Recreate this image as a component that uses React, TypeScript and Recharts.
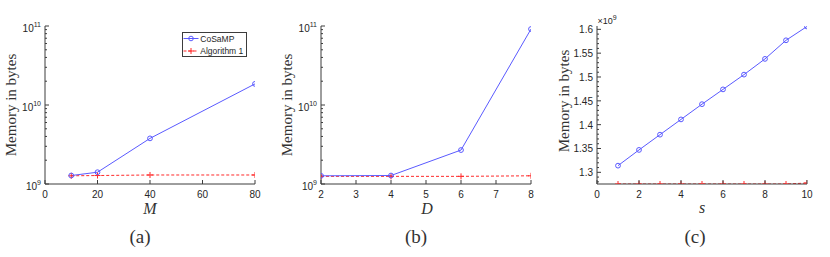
import React from 'react';
import { LineChart, Line, XAxis, YAxis, Legend } from 'recharts';

// ---- data ----
const mValues = [10, 20, 40, 80];
const cosampM = [1.28e9, 1.41e9, 3.78e9, 1.85e10];
const alg1M = [1.27e9, 1.28e9, 1.3e9, 1.3e9];

const dValues = [2, 4, 6, 8];
const cosampD = [1.27e9, 1.28e9, 2.69e9, 9.15e10];
const alg1D = [1.25e9, 1.25e9, 1.25e9, 1.27e9];

const sValues = [1, 2, 3, 4, 5, 6, 7, 8, 9, 10];
const cosampS = [1.314e9, 1.347e9, 1.379e9, 1.411e9, 1.443e9, 1.474e9, 1.505e9, 1.538e9, 1.577e9, 1.606e9];
const alg1S = [1.2755e9, 1.2755e9, 1.2755e9, 1.2755e9, 1.2755e9, 1.2755e9, 1.2755e9, 1.2755e9, 1.2755e9, 1.2775e9];

const mTicks = [0, 20, 40, 60, 80];
const dTicks = [2, 3, 4, 5, 6, 7, 8];
const sTicks = [0, 2, 4, 6, 8, 10];
const logMajor = [1e9, 1e10, 1e11];
const linMajorC = [1.3e9, 1.35e9, 1.4e9, 1.45e9, 1.5e9, 1.55e9, 1.6e9];
const linLabelsC = ['1.3', '1.35', '1.4', '1.45', '1.5', '1.55', '1.6'];

const logTicks: number[] = [];
[1e9, 1e10].forEach((d) => {
  for (let k = 1; k < 10; k++) logTicks.push(d * k);
});
logTicks.push(1e11);

const linTicksC: number[] = [];
for (let k = 128; k <= 160; k++) linTicksC.push(k * 1e7);

const mData = mValues.map((x, i) => ({ x, cosamp: cosampM[i], alg1: alg1M[i] }));
const dData = dValues.map((x, i) => ({ x, cosamp: cosampD[i], alg1: alg1D[i] }));
const sData = sValues.map((x, i) => ({ x, cosamp: cosampS[i], alg1: alg1S[i] }));

// ---- style ----
const AX = '#3c3c3c';
const TXT = '#262626';
const BLUE = '#5a5aff';
const RED = '#ff2a2a';
const SANS = '"Liberation Sans", Arial, sans-serif';
const SERIF = '"Liberation Serif", "DejaVu Serif", serif';

const isIn = (arr: number[], v: number) => arr.findIndex((m) => Math.abs(m - v) <= Math.abs(m) * 1e-6);

type Side = 'left' | 'right' | 'bottom' | 'top';
function makeTick(
  side: Side,
  majors: number[] | null,
  labeler: ((v: number, idx: number) => React.ReactNode) | null,
  dyLabel = 3.5
) {
  return (props: any) => {
    const { x, y, payload } = props;
    const v = payload.value;
    const idx = majors ? isIn(majors, v) : 0;
    const major = idx >= 0;
    const len = major ? 4 : 2;
    let line: React.ReactNode = null;
    if (side === 'left') line = <line x1={x} y1={y} x2={x + len} y2={y} stroke={AX} strokeWidth={1} />;
    if (side === 'right') line = <line x1={x} y1={y} x2={x - len} y2={y} stroke={AX} strokeWidth={1} />;
    if (side === 'bottom') line = <line x1={x} y1={y} x2={x} y2={y - len} stroke={AX} strokeWidth={1} />;
    if (side === 'top') line = <line x1={x} y1={y} x2={x} y2={y + len} stroke={AX} strokeWidth={1} />;
    let label: React.ReactNode = null;
    if (labeler && major) {
      if (side === 'left') {
        label = (
          <text x={x - 4} y={y + dyLabel} textAnchor="end" fontFamily={SANS} fontSize={10} fill={TXT}>
            {labeler(v, idx)}
          </text>
        );
      } else if (side === 'bottom') {
        label = (
          <text x={x} y={y + 14} textAnchor="middle" fontFamily={SANS} fontSize={10} fill={TXT}>
            {labeler(v, idx)}
          </text>
        );
      }
    }
    return (
      <g>
        {line}
        {label}
      </g>
    );
  };
}

const logLabel = (v: number) => {
  const e = Math.round(Math.log10(v));
  return (
    <>
      <tspan>10</tspan>
      <tspan dy={-5} fontSize={7}>{e}</tspan>
    </>
  );
};
const numLabel = (v: number) => String(v);
const cLabel = (_v: number, idx: number) => linLabelsC[idx];

const Plus = (props: any) => {
  const { cx, cy } = props;
  if (cx == null || cy == null) return null;
  return <path d={`M${cx - 3},${cy}h6M${cx},${cy - 3}v6`} stroke={RED} strokeWidth={1} fill="none" />;
};

const LegendBox = () => (
  <svg width={65} height={25} style={{ display: 'block' }}>
    <rect x={0.5} y={0.5} width={64} height={24} fill="#fff" stroke={AX} strokeWidth={1} />
    <line x1={1.5} y1={6.5} x2={16.5} y2={6.5} stroke={BLUE} strokeWidth={1} />
    <circle cx={9} cy={6.5} r={2.3} fill="none" stroke={BLUE} strokeWidth={1} />
    <text x={18.3} y={9.6} fontFamily={SANS} fontSize={8.5} fill={TXT}>CoSaMP</text>
    <line x1={1.5} y1={19} x2={16.5} y2={19} stroke={RED} strokeWidth={1} strokeDasharray="3 2" />
    <path d="M6,19h6M9,16v6" stroke={RED} strokeWidth={1} />
    <text x={18.3} y={22.1} fontFamily={SANS} fontSize={8.5} fill={TXT}>Algorithm 1</text>
  </svg>
);

type PanelProps = {
  left: number;
  yWidth: number;
  rightMargin: number;
  data: any[];
  xDomain: [number, number];
  xTicks: number[];
  yLog: boolean;
  yDomain: [number, number];
  yTicks: number[];
  yMajors: number[];
  yLabeler: (v: number, idx: number) => React.ReactNode;
  yLabelDy: number;
  legend?: boolean;
};

const Panel = (p: PanelProps) => (
  <div style={{ position: 'absolute', left: p.left, top: 0 }}>
    <LineChart width={280} height={257} data={p.data} margin={{ top: 26, right: p.rightMargin, bottom: 0, left: 0 }}>
      <XAxis
        dataKey="x"
        type="number"
        domain={p.xDomain}
        ticks={p.xTicks}
        interval={0}
        height={73}
        tickSize={0}
        tickMargin={0}
        tickLine={false}
        axisLine={{ stroke: AX }}
        tick={makeTick('bottom', p.xTicks, numLabel)}
        allowDataOverflow
      />
      <XAxis
        xAxisId="top"
        orientation="top"
        type="number"
        domain={p.xDomain}
        ticks={p.xTicks}
        interval={0}
        height={0}
        tickSize={0}
        tickMargin={0}
        tickLine={false}
        axisLine={{ stroke: AX }}
        tick={makeTick('top', p.xTicks, null)}
        allowDataOverflow
      />
      <YAxis
        type="number"
        scale={p.yLog ? 'log' : 'linear'}
        domain={p.yDomain}
        ticks={p.yTicks}
        interval={0}
        width={p.yWidth}
        tickSize={0}
        tickMargin={0}
        tickLine={false}
        axisLine={{ stroke: AX }}
        tick={makeTick('left', p.yMajors, p.yLabeler, p.yLabelDy)}
        allowDataOverflow
      />
      <YAxis
        yAxisId="r"
        orientation="right"
        type="number"
        scale={p.yLog ? 'log' : 'linear'}
        domain={p.yDomain}
        ticks={p.yTicks}
        interval={0}
        width={0}
        tickSize={0}
        tickMargin={0}
        tickLine={false}
        axisLine={{ stroke: AX }}
        tick={makeTick('right', p.yMajors, null)}
        allowDataOverflow
      />
      <Line
        dataKey="alg1"
        stroke={RED}
        strokeWidth={1}
        strokeDasharray="3 2"
        dot={<Plus />}
        isAnimationActive={false}
        name="Algorithm 1"
      />
      <Line
        dataKey="cosamp"
        stroke={BLUE}
        strokeWidth={1}
        dot={{ r: 2.4, fill: 'none', stroke: BLUE, strokeWidth: 1 }}
        isAnimationActive={false}
        name="CoSaMP"
      />
      {p.legend ? (
        <Legend
          layout="vertical"
          align="center"
          verticalAlign="middle"
          wrapperStyle={{ position: 'absolute', left: 181.5, top: 32, width: 65, height: 25 }}
          content={() => <LegendBox />}
        />
      ) : null}
    </LineChart>
  </div>
);

const ylab = (x: number, y: number) => (
  <text
    x={x}
    y={y}
    transform={`rotate(-90 ${x} ${y})`}
    textAnchor="middle"
    dominantBaseline="central"
    fontFamily={SERIF}
    fontSize={15}
    fill="#333"
  >
    Memory in bytes
  </text>
);

export default function App() {
  return (
    <div style={{ position: 'absolute', left: 0, top: 0, width: 830, height: 257, background: '#fff', overflow: 'hidden' }}>
      <Panel
        left={0}
        yWidth={45}
        rightMargin={25}
        data={mData}
        xDomain={[0, 80]}
        xTicks={mTicks}
        yLog
        yDomain={[1e9, 1e11]}
        yTicks={logTicks}
        yMajors={logMajor}
        yLabeler={logLabel}
        yLabelDy={5.5}
        legend
      />
      <Panel
        left={275}
        yWidth={46}
        rightMargin={24}
        data={dData}
        xDomain={[2, 8]}
        xTicks={dTicks}
        yLog
        yDomain={[1e9, 1e11]}
        yTicks={logTicks}
        yMajors={logMajor}
        yLabeler={logLabel}
        yLabelDy={5.5}
      />
      <Panel
        left={550}
        yWidth={47}
        rightMargin={23}
        data={sData}
        xDomain={[0, 10]}
        xTicks={sTicks}
        yLog={false}
        yDomain={[1.2755e9, 1.607e9]}
        yTicks={linTicksC}
        yMajors={linMajorC}
        yLabeler={cLabel}
        yLabelDy={4}
      />
      <svg width={830} height={257} style={{ position: 'absolute', left: 0, top: 0, pointerEvents: 'none' }}>
        {ylab(11, 105)}
        {ylab(287, 105)}
        {ylab(564, 101)}
        <text x={150} y={214} textAnchor="middle" fontFamily={SERIF} fontStyle="italic" fontSize={16} fill="#333">M</text>
        <text x={427} y={214} textAnchor="middle" fontFamily={SERIF} fontStyle="italic" fontSize={16} fill="#333">D</text>
        <text x={702} y={213} textAnchor="middle" fontFamily={SERIF} fontStyle="italic" fontSize={16} fill="#333">s</text>
        <text x={140} y={243} textAnchor="middle" fontFamily={SERIF} fontSize={19} fill="#333">(a)</text>
        <text x={416} y={243} textAnchor="middle" fontFamily={SERIF} fontSize={19} fill="#333">(b)</text>
        <text x={695} y={243} textAnchor="middle" fontFamily={SERIF} fontSize={19} fill="#333">(c)</text>
        <text x={597.5} y={23.5} fontFamily={SANS} fontSize={9} fill={TXT}>
          <tspan>×10</tspan>
          <tspan dy={-4} fontSize={7}>9</tspan>
        </text>
      </svg>
    </div>
  );
}
